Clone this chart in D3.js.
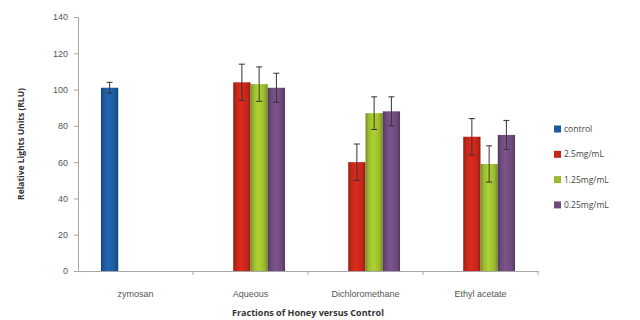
<!DOCTYPE html>
<html>
<head>
<meta charset="utf-8">
<script src="https://cdn.jsdelivr.net/npm/d3@7"></script>
<style>
  body { margin: 0; background: #fff; }
  svg { font-family: "Open Sans", "Liberation Sans", sans-serif; }
</style>
</head>
<body>
<svg id="chart" width="640" height="320"></svg>
<script>
// data
var categories = ['zymosan', 'Aqueous', 'Dichloromethane', 'Ethyl acetate'];
var seriesNames = ['control', '2.5mg/mL', '1.25mg/mL', '0.25mg/mL'];
var seriesColors = ['#1c5a9e', '#c3261a', '#9aba2e', '#6d4a7c'];
// values per series, one per category (null = no bar)
var controlVals = [101, null, null, null];
var dose25Vals = [null, 104, 60, 74];
var dose125Vals = [null, 103, 87, 59];
var dose025Vals = [null, 101, 88, 75];
var controlErr = [3, null, null, null];
var dose25Err = [null, 10, 10, 10];
var dose125Err = [null, 9.5, 9, 10];
var dose025Err = [null, 8, 8, 8];
var yTicks = [0, 20, 40, 60, 80, 100, 120, 140];

var values = [controlVals, dose25Vals, dose125Vals, dose025Vals];
var errors = [controlErr, dose25Err, dose125Err, dose025Err];

var svg = d3.select('#chart');
var margin = {left: 78, right: 102, top: 17, bottom: 49};
var width = 640 - margin.left - margin.right;
var height = 320 - margin.top - margin.bottom;

var defs = svg.append('defs');
seriesColors.forEach(function(c, i) {
  var g = defs.append('linearGradient')
    .attr('id', 'grad' + i)
    .attr('x1', '0%').attr('x2', '100%').attr('y1', '0%').attr('y2', '0%');
  var dark = d3.color(c).darker(0.8);
  var light = d3.color(c).brighter(0.35);
  g.append('stop').attr('offset', '0%').attr('stop-color', dark);
  g.append('stop').attr('offset', '18%').attr('stop-color', c);
  g.append('stop').attr('offset', '45%').attr('stop-color', light);
  g.append('stop').attr('offset', '80%').attr('stop-color', c);
  g.append('stop').attr('offset', '100%').attr('stop-color', dark);
});

var chart = svg.append('g').attr('transform', 'translate(' + margin.left + ',' + margin.top + ')');

var x0 = d3.scaleBand().domain(categories).range([0, width]).paddingInner(0).paddingOuter(0);
var x1 = d3.scaleBand().domain(d3.range(seriesNames.length))
  .range([0, x0.bandwidth()]).paddingInner(0).paddingOuter(1.33);
var y = d3.scaleLinear().domain([0, 140]).range([height, 0]);

//y axis
var yAxis = chart.append('g')
  .call(d3.axisLeft(y).tickValues(yTicks).tickSize(4).tickPadding(6));
yAxis.select('.domain').attr('stroke', '#a6a6a6');
yAxis.selectAll('.tick line').attr('stroke', '#a6a6a6');
yAxis.selectAll('.tick text').attr('fill', '#555').style('font-size', '9px');

//x axis
var xAxis = chart.append('g').attr('transform', 'translate(0,' + height + ')')
  .call(d3.axisBottom(x0).tickSize(0).tickPadding(20));
xAxis.select('.domain').attr('stroke', '#a6a6a6');
xAxis.selectAll('.tick text').attr('fill', '#555').style('font-size', '9px');
//boundary ticks
chart.append('g').selectAll('line')
  .data(categories.slice(1).concat(['end']))
  .enter().append('line')
  .attr('x1', function(d, i) { return x0.step() * (i + 1); })
  .attr('x2', function(d, i) { return x0.step() * (i + 1); })
  .attr('y1', height).attr('y2', height + 4)
  .attr('stroke', '#a6a6a6');

//bars
var groups = chart.append('g').selectAll('g')
  .data(categories).enter().append('g')
  .attr('transform', function(d) { return 'translate(' + x0(d) + ',0)'; });

groups.each(function(cat, ci) {
  var g = d3.select(this);
  values.forEach(function(vals, si) {
    var v = vals[ci];
    if (v == null) return;
    var e = errors[si][ci];
    var bx = x1(si);
    g.append('rect')
      .attr('x', bx).attr('width', x1.bandwidth())
      .attr('y', y(v)).attr('height', height - y(v))
      .attr('fill', 'url(#grad' + si + ')');
    var cx = bx + x1.bandwidth() / 2;
    g.append('line').attr('x1', cx).attr('x2', cx)
      .attr('y1', y(v + e)).attr('y2', y(v - e))
      .attr('stroke', '#333').attr('stroke-width', 1);
    [v + e, v - e].forEach(function(t) {
      g.append('line').attr('x1', cx - 3).attr('x2', cx + 3)
        .attr('y1', y(t)).attr('y2', y(t))
        .attr('stroke', '#333').attr('stroke-width', 1);
    });
  });
});

//axis titles
svg.append('text')
  .attr('transform', 'translate(24,' + (margin.top + height / 2) + ') rotate(-90)')
  .attr('text-anchor', 'middle')
  .attr('fill', '#333').style('font-size', '8.5px').style('font-weight', 'bold')
  .text('Relative Lights Units (RLU)');
svg.append('text')
  .attr('x', margin.left + width / 2).attr('y', 316)
  .attr('text-anchor', 'middle')
  .attr('fill', '#333').style('font-size', '9px').style('font-weight', 'bold')
  .text('Fractions of Honey versus Control');

//legend
var legend = svg.append('g').attr('transform', 'translate(554,129)');
var items = legend.selectAll('g').data(seriesNames).enter().append('g')
  .attr('transform', function(d, i) { return 'translate(0,' + (i * 25.3) + ')'; });
items.append('rect').attr('x', 0).attr('y', -3.5).attr('width', 7).attr('height', 7)
  .attr('fill', function(d, i) { return seriesColors[i]; });
items.append('text').attr('x', 10).attr('y', 3)
  .attr('fill', '#444').style('font-size', '8.5px')
  .text(function(d) { return d; });
</script>
</body>
</html>
